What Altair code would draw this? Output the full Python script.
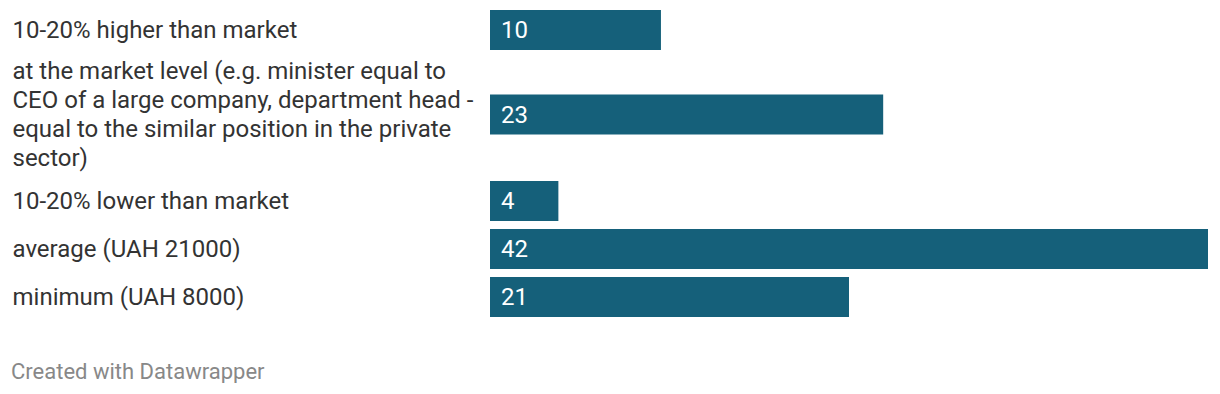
import altair as alt
import pandas as pd

categories = [
    "10-20% higher than market",
    "at the market level (e.g. minister equal to|CEO of a large company, department head -|equal to the similar position in the private|sector)",
    "10-20% lower than market",
    "average (UAH 21000)",
    "minimum (UAH 8000)",
]
values = [10, 23, 4, 42, 21]
row_heights = [44, 125, 48, 48, 48]

BAR = "#15607a"
FONT = "Roboto"
FS = 24
LH = 29

panels = []
for cat, val, h in zip(categories, values, row_heights):
    nlines = len(cat.split("|"))
    df = pd.DataFrame({"category": [cat], "value": [val]})
    base = alt.Chart(df).encode(
        y=alt.Y(
            "category:N",
            title=None,
            axis=alt.Axis(
                labelAlign="left",
                labelPadding=478,
                labelLimit=475,
                labelFont=FONT,
                labelFontSize=FS,
                labelColor="#333333",
                labelLineHeight=LH,
                labelOffset=-(nlines - 1) * LH / 2 + 1,
                labelExpr="split(datum.label, '|')",
                ticks=False,
                domain=False,
            ),
        )
    )
    bar = base.mark_bar(color=BAR, height=40).encode(
        x=alt.X("value:Q", scale=alt.Scale(domain=[0, 42], nice=False), axis=None)
    )
    txt = base.mark_text(
        align="left", dx=11, dy=1, color="white", font=FONT, fontSize=FS
    ).encode(x=alt.datum(0), text=alt.Text("value:Q"))
    panels.append((bar + txt).properties(width=718, height=h))

chart = (
    alt.vconcat(*panels, spacing=0)
    .properties(
        padding={"left": 3, "top": 0, "right": 2, "bottom": 0},
        title=alt.TitleParams(
            "Created with Datawrapper",
            orient="bottom",
            anchor="start",
            frame="bounds",
            font=FONT,
            fontSize=22,
            fontWeight="normal",
            color="#888888",
            offset=41,
            dx=-1,
        ),
    )
    .configure_view(stroke=None)
    .configure_axis(grid=False)
)

chart.save("out.html", embed_options={"renderer": "svg", "actions": False})
